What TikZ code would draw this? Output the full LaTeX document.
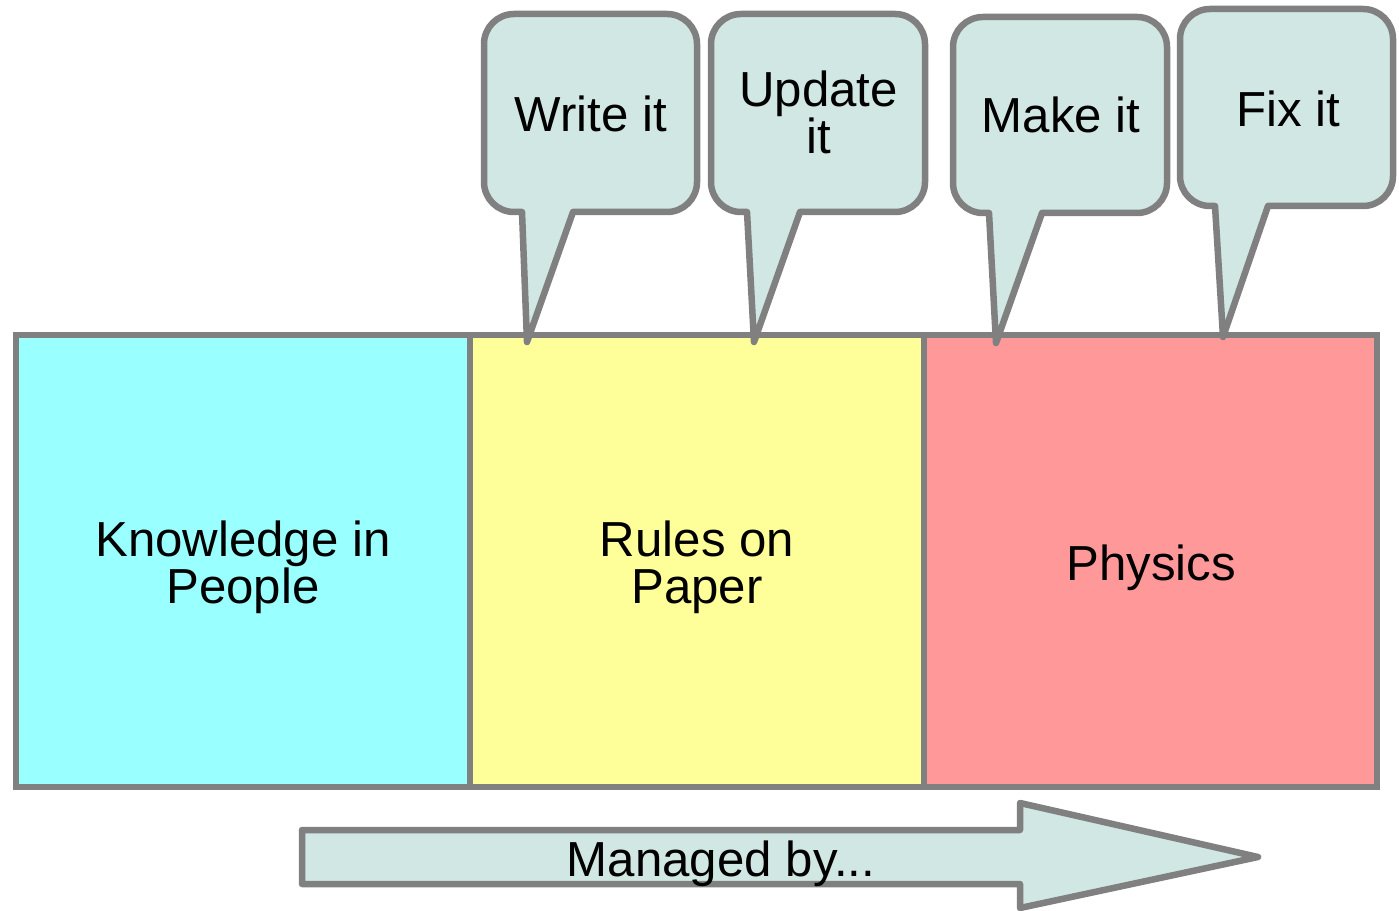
\documentclass[tikz,border=0pt]{standalone}
\usepackage{fontspec}
\setmainfont{Liberation Sans}
\definecolor{edge}{RGB}{128,128,128}
\definecolor{bub}{RGB}{208,231,227}
\definecolor{cyanbox}{RGB}{153,255,255}
\definecolor{yellowbox}{RGB}{255,255,153}
\definecolor{pinkbox}{RGB}{255,153,153}
\tikzset{
  outline/.style={draw=edge, line width=3.7pt},
  bubblestyle/.style={outline, fill=bub, line join=round},
  panel/.style={outline, minimum height=9.04cm, inner sep=0pt},
  btext/.style={align=center, inner sep=0pt, font=\fontsize{28}{26.6}\selectfont},
}
\newcommand{\mybubble}[8]{%
  \draw[bubblestyle] (#5,#4) -- (#7,#8) -- (#6,#4) -- ({#3-30},#4)
    arc[start angle=90,end angle=0,radius=30] -- (#3,{#2+30})
    arc[start angle=0,end angle=-90,radius=30] -- ({#1+30},#2)
    arc[start angle=-90,end angle=-180,radius=30] -- (#1,{#4-30})
    arc[start angle=180,end angle=90,radius=30] -- cycle;}
\begin{document}
\begin{tikzpicture}[x=0.02cm,y=-0.02cm]
\useasboundingbox (0,0) rectangle (1399,911);
% panels
\node[panel, fill=cyanbox, minimum width=9.08cm] (p1) at (243,561) {};
\node[panel, fill=yellowbox, minimum width=9.08cm] (p2) at (697,561) {};
\node[panel, fill=pinkbox, minimum width=9.06cm] (p3) at (1150.5,561) {};
\node[btext] (t1) at (243,567.5) {Knowledge in\\People};
\node[btext] (t2) at (697,567.5) {Rules on\\Paper};
\node[btext, anchor=base] (t3) at (1151,581) {Physics};
% bubbles
\mybubble{484}{14}{697}{212}{522}{573}{527}{342}
\mybubble{711}{14}{925}{212}{747}{800}{754}{342}
\mybubble{953}{17}{1167}{213}{989}{1042}{996}{343}
\mybubble{1180}{9}{1393}{206}{1215}{1268}{1223}{337}
\node[btext, anchor=base] (b1) at (591,132) {Write it};
\node[btext] (b2) at (818.5,112.5) {Update\\it};
\node[btext, anchor=base] (b3) at (1061,133) {Make it};
\node[btext, anchor=base] (b4) at (1288,127) {Fix it};
% arrow
\draw[bubblestyle] (302,830) -- (1020,830) -- (1020,803) -- (1258,857)
  -- (1020,908) -- (1020,884) -- (302,884) -- cycle;
\node[btext, anchor=base] (m) at (721,876) {Managed by...};
\end{tikzpicture}
\end{document}
